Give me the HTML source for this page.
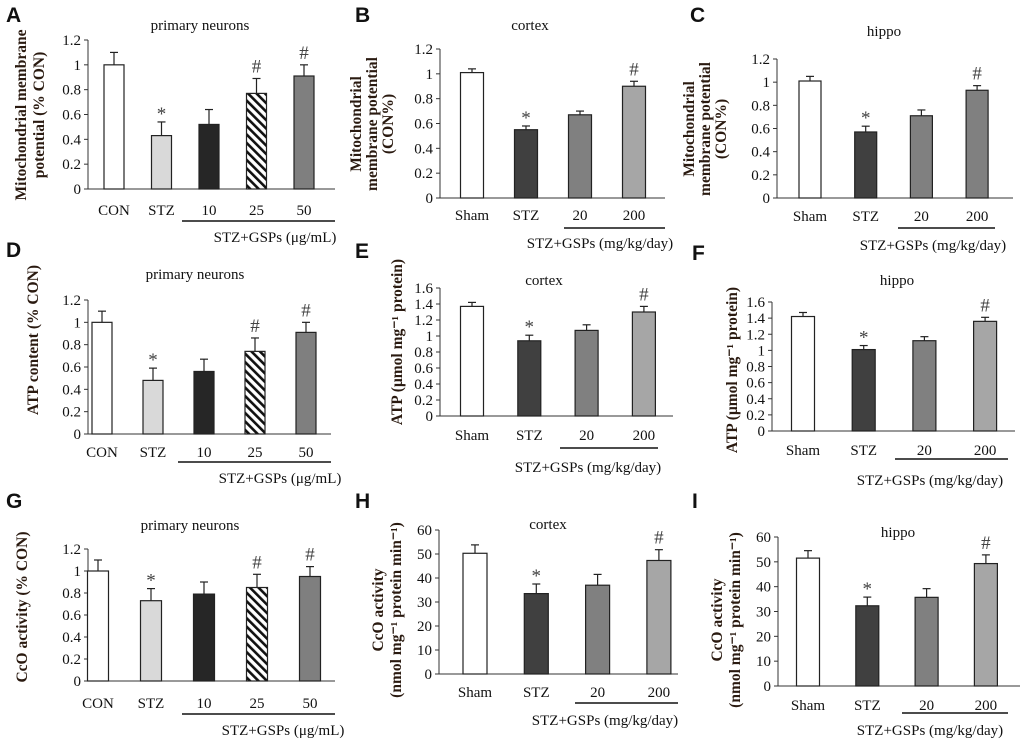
<!DOCTYPE html>
<html><head><meta charset="utf-8">
<style>
html,body{margin:0;padding:0;background:#fff;}
svg{display:block;}
text{font-family:"Liberation Serif",serif;fill:#111;}
.lt{font-family:"Liberation Sans",sans-serif;font-weight:bold;font-size:21px;}
.tk{font-size:15px;}
.cat{font-size:15px;}
.ttl{font-size:15px;}
.sig{font-size:19px;fill:#444;}
.yt{font-size:15.5px;font-weight:bold;fill:#2a1a10;}
</style></head>
<body>
<svg id="fig" width="1020" height="742" viewBox="0 0 1020 742" xmlns="http://www.w3.org/2000/svg">
<defs>
<pattern id="hatch" patternUnits="userSpaceOnUse" width="6" height="6" patternTransform="rotate(-45)">
<rect width="6" height="6" fill="#fff"/><rect width="2.6" height="6" fill="#111"/>
</pattern>
</defs>
</svg>
<script>
// ---- data ----
const catsNeuron = ["CON","STZ","10","25","50"];
const catsTissue = ["Sham","STZ","20","200"];
const valsA = [1.0,0.43,0.52,0.77,0.91];
const errsA = [0.10,0.11,0.12,0.12,0.09];
const marksA = ["","*","","#","#"];
const valsB = [1.01,0.55,0.67,0.90];
const errsB = [0.03,0.03,0.03,0.04];
const marksB = ["","*","","#"];
const valsC = [1.01,0.57,0.71,0.93];
const errsC = [0.04,0.05,0.05,0.04];
const marksC = ["","*","","#"];
const valsD = [1.0,0.48,0.56,0.74,0.91];
const errsD = [0.10,0.11,0.11,0.12,0.09];
const marksD = ["","*","","#","#"];
const valsE = [1.37,0.94,1.07,1.30];
const errsE = [0.05,0.07,0.07,0.07];
const marksE = ["","*","","#"];
const valsF = [1.42,1.01,1.12,1.36];
const errsF = [0.05,0.05,0.05,0.05];
const marksF = ["","*","","#"];
const valsG = [1.0,0.73,0.79,0.85,0.95];
const errsG = [0.10,0.11,0.11,0.12,0.09];
const marksG = ["","*","","#","#"];
const valsH = [50.3,33.5,37.0,47.3];
const errsH = [3.5,4.0,4.5,4.5];
const marksH = ["","*","","#"];
const valsI = [51.5,32.3,35.7,49.3];
const errsI = [3.0,3.5,3.5,3.5];
const marksI = ["","*","","#"];
const ticks12 = [0,0.2,0.4,0.6,0.8,1,1.2];
const ticks16 = [0,0.2,0.4,0.6,0.8,1,1.2,1.4,1.6];
const ticks60 = [0,10,20,30,40,50,60];

const NS="http://www.w3.org/2000/svg";
const svg=document.getElementById('fig');
function mk(tag,attrs,parent,txt){const e=document.createElementNS(NS,tag);for(const k in attrs)e.setAttribute(k,attrs[k]);if(txt!==undefined)e.textContent=txt;(parent||svg).appendChild(e);return e;}

const W='#fff', LG='#d9d9d9', BK='#262626', HT='url(#hatch)', G7='#7f7f7f', DG='#404040', MG='#808080', LG2='#a6a6a6';

const panels=[
 {id:'a',letter:'A',lx:6,ly:22,cats:catsNeuron,vals:valsA,errs:errsA,marks:marksA,ticks:ticks12,ax:88,y0:189,yTop:40,xEnd:335,c0:114,step:47.5,bw:20,fills:[W,LG,BK,HT,G7],title:'primary  neurons',tx:200,ty:30,catY:215,ul:[182,335,221],grp:'STZ+GSPs (μg/mL)',gx:275,gy:242,yt:['Mitochondrial membrane','potential (% CON)'],ytx:30,yty:115,ytGap:18},
 {id:'b',letter:'B',lx:355,ly:22,cats:catsTissue,vals:valsB,errs:errsB,marks:marksB,ticks:ticks12,ax:440,y0:198,yTop:49,xEnd:665,c0:472,step:54,bw:23,fills:[W,DG,MG,LG2],title:'cortex',tx:530,ty:30,catY:220,ul:[564,665,228],grp:'STZ+GSPs (mg/kg/day)',gx:600,gy:248,yt:['Mitochondrial','membrane potential','(CON%)'],ytx:372,yty:124,ytGap:16},
 {id:'c',letter:'C',lx:690,ly:22,cats:catsTissue,vals:valsC,errs:errsC,marks:marksC,ticks:ticks12,ax:777,y0:198,yTop:59,xEnd:1013,c0:810,step:55.7,bw:22,fills:[W,DG,MG,MG],title:'hippo',tx:884,ty:36,catY:221,ul:[898,995,228],grp:'STZ+GSPs (mg/kg/day)',gx:933,gy:250,yt:['Mitochondrial','membrane potential','(CON%)'],ytx:705,yty:129,ytGap:16},
 {id:'d',letter:'D',lx:6,ly:257,cats:catsNeuron,vals:valsD,errs:errsD,marks:marksD,ticks:ticks12,ax:88,y0:434,yTop:300,xEnd:331,c0:102,step:51,bw:20,fills:[W,LG,BK,HT,G7],title:'primary  neurons',tx:195,ty:279,catY:457,ul:[178,331,462],grp:'STZ+GSPs (μg/mL)',gx:280,gy:483,yt:['ATP content  (% CON)'],ytx:33,yty:340,ytGap:15},
 {id:'e',letter:'E',lx:355,ly:258,cats:catsTissue,vals:valsE,errs:errsE,marks:marksE,ticks:ticks16,ax:440,y0:416,yTop:288,xEnd:673,c0:472,step:57.3,bw:23,fills:[W,DG,MG,LG2],title:'cortex',tx:544,ty:285,catY:440,ul:[560,658,448],grp:'STZ+GSPs (mg/kg/day)',gx:588,gy:472,yt:['ATP (μmol mg⁻¹ protein)'],ytx:397,yty:342,ytGap:15},
 {id:'f',letter:'F',lx:692,ly:260,cats:catsTissue,vals:valsF,errs:errsF,marks:marksF,ticks:ticks16,ax:772,y0:431,yTop:302,xEnd:1015,c0:803,step:60.7,bw:23,fills:[W,DG,MG,LG2],title:'hippo',tx:897,ty:285,catY:455,ul:[895,1008,459],grp:'STZ+GSPs (mg/kg/day)',gx:930,gy:485,yt:['ATP (μmol mg⁻¹ protein)'],ytx:732,yty:370,ytGap:15},
 {id:'g',letter:'G',lx:6,ly:508,cats:catsNeuron,vals:valsG,errs:errsG,marks:marksG,ticks:ticks12,ax:88,y0:681,yTop:549,xEnd:335,c0:98,step:53,bw:21,fills:[W,LG,BK,HT,G7],title:'primary  neurons',tx:190,ty:530,catY:708,ul:[182,335,714],grp:'STZ+GSPs (μg/mL)',gx:283,gy:735,yt:['CcO activity (% CON)'],ytx:22,yty:607,ytGap:15},
 {id:'h',letter:'H',lx:355,ly:508,cats:catsTissue,vals:valsH,errs:errsH,marks:marksH,ticks:ticks60,ax:439,y0:674,yTop:530,xEnd:678,c0:475,step:61.3,bw:24,fills:[W,DG,MG,LG2],title:'cortex',tx:548,ty:529,catY:697,ul:[575,678,703],grp:'STZ+GSPs (mg/kg/day)',gx:605,gy:725,yt:['CcO activity','(nmol mg⁻¹ protein min⁻¹)'],ytx:387,yty:610,ytGap:18},
 {id:'i',letter:'I',lx:692,ly:508,cats:catsTissue,vals:valsI,errs:errsI,marks:marksI,ticks:ticks60,ax:778,y0:686,yTop:537,xEnd:1020,c0:808,step:59.3,bw:23,fills:[W,DG,MG,LG2],title:'hippo',tx:898,ty:537,catY:710,ul:[902,1008,713],grp:'STZ+GSPs (mg/kg/day)',gx:930,gy:735,yt:['CcO activity','(nmol mg⁻¹ protein min⁻¹)'],ytx:726,yty:620,ytGap:18}
];

panels.forEach(p=>{
  const g=mk('g',{});
  
  
  const max=p.ticks[p.ticks.length-1];
  const yS=v=>p.y0-(v/max)*(p.y0-p.yTop);
  const xS=i=>p.c0+i*p.step;
  const lt=mk('text',{x:p.lx,y:p.ly,class:'lt'},g,p.letter);
  
  
  const tt=mk('text',{x:p.tx,y:p.ty,class:'ttl','text-anchor':'middle'},g,p.title);
  
  
  mk('line',{x1:p.ax,y1:p.yTop,x2:p.ax,y2:p.y0,stroke:'#333','stroke-width':1},g);
  p.ticks.forEach(t=>{
    const y=yS(t);
    mk('line',{x1:p.ax-4,y1:y,x2:p.ax,y2:y,stroke:'#333','stroke-width':1},g);
    const tl=mk('text',{x:p.ax-7,y:y+5,class:'tk','text-anchor':'end'},g,String(t));
    
    
  });
  mk('line',{x1:p.ax,y1:p.y0,x2:p.xEnd,y2:p.y0,stroke:'#333','stroke-width':1},g);
  p.vals.forEach((v,i)=>{
    const cx=xS(i), top=yS(v), et=yS(v+p.errs[i]);
    mk('line',{x1:cx,y1:top,x2:cx,y2:et,stroke:'#222','stroke-width':1.2},g);
    mk('line',{x1:cx-4,y1:et,x2:cx+4,y2:et,stroke:'#222','stroke-width':1.2},g);
    const r=mk('rect',{x:cx-p.bw/2,y:top,width:p.bw,height:p.y0-top,fill:p.fills[i],stroke:'#222','stroke-width':1.2},g);
    
    
    if(p.marks[i]){
      const m=mk('text',{x:cx,y:p.marks[i]==='*'?et-2:et-6,class:'sig','text-anchor':'middle'},g,p.marks[i]);
      
      
    }
    const cl=mk('text',{x:cx,y:p.catY,class:'cat','text-anchor':'middle'},g,p.cats[i]);
    
    
  });
  mk('line',{x1:p.ul[0],y1:p.ul[2],x2:p.ul[1],y2:p.ul[2],stroke:'#111','stroke-width':1.5},g);
  const gl=mk('text',{x:p.gx,y:p.gy,class:'cat','text-anchor':'middle'},g,p.grp);
  
  
  const n=p.yt.length;
  p.yt.forEach((line,k)=>{
    const x=p.ytx+(k-(n-1)/2)*p.ytGap+5;
    const yt=mk('text',{x:x,y:p.yty,class:'yt','text-anchor':'middle',transform:`rotate(-90 ${x} ${p.yty})`},g,line);
    
    
  });
});
</script>
</body></html>
